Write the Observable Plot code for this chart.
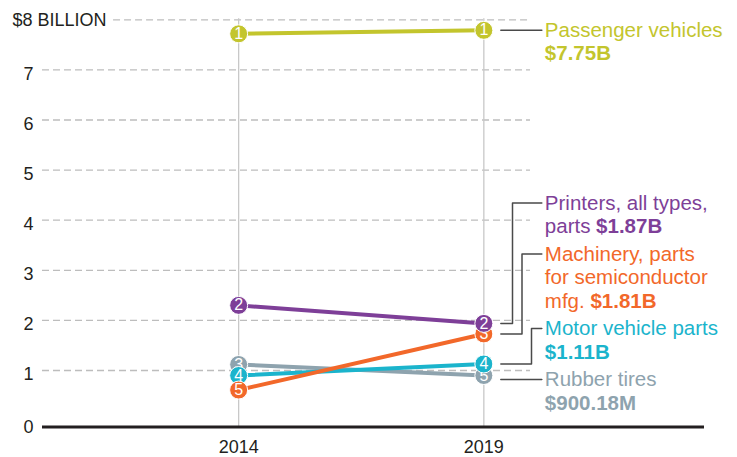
<!DOCTYPE html>
<html><head><meta charset="utf-8">
<script src="https://cdn.jsdelivr.net/npm/d3@7"></script>
<script src="https://cdn.jsdelivr.net/npm/@observablehq/plot@0.6"></script>
<style>body{margin:0;background:#fff} svg{display:block}</style>
</head><body><div id="chart"></div>
<script>
// ---------- data ----------
const years = [2014, 2019];
const series = ["Passenger vehicles", "Printers, all types, parts", "Machinery, parts for semiconductor mfg.", "Motor vehicle parts", "Rubber tires"];
const values2014 = [7.72, 2.30, 0.61, 0.90, 1.12];
const values2019 = [7.79, 1.94, 1.73, 1.13, 0.90];
const valueLabels = ["$7.75B", "$1.87B", "$1.81B", "$1.11B", "$900.18M"];
const labelLines = [
  ["Passenger vehicles", ""],
  ["Printers, all types,", "parts "],
  ["Machinery, parts", "for semiconductor", "mfg. "],
  ["Motor vehicle parts", ""],
  ["Rubber tires", ""]
];
const colors = ["#c3c52d", "#7e3f98", "#f2682a", "#1bb4cc", "#8ea3ae"];
const yTicks = [0, 1, 2, 3, 4, 5, 6, 7, 8];
const yTopLabel = "$8 BILLION";

// ---------- layout ----------
const W = 737, H = 457, mL = 42, mR = 33, mT = 19.3, mB = 36.9;
const xDomain = [2010, 2023.5], yDomain = [0, 8];
const xs = d3.scaleLinear(xDomain, [mL, W - mR]);
const ys = d3.scaleLinear(yDomain, [H - mB, mT]);
const FONT = "'Liberation Sans', Arial, sans-serif";
const labelSize = 20.5, tickSize = 18, lineH = 23.5, blockGap = 4;
const baseDrop = 6.4; // baseline sits slightly below zero
const ctx = document.createElement("canvas").getContext("2d");
const measure = (t, weight, size) => { ctx.font = `${weight} ${size}px 'Liberation Sans'`; return ctx.measureText(t).width; };

// points
const points = [];
series.forEach((s, i) => {
  points.push({series: s, idx: i, year: years[0], value: values2014[i], color: colors[i]});
  points.push({series: s, idx: i, year: years[1], value: values2019[i], color: colors[i]});
});
for (const yr of years) {
  points.filter(p => p.year === yr).sort((a, b) => b.value - a.value).forEach((p, k) => p.rank = k + 1);
}
const order = d3.sort(series.map((s, i) => i), i => values2019[i]); // bottom -> top
points.sort((a, b) => order.indexOf(a.idx) - order.indexOf(b.idx));

// labels (stacked bottom-up)
const labelXpx = xs(years[1]) + 61;
const leadStart = xs(years[1]) + 17, leadEnd = labelXpx - 3;
const textRows = [], boldRows = [], leaderRows = [];
let prev = null, pushed = 0;
for (const i of order) {
  const want = ys(values2019[i]);
  const n = labelLines[i].length;
  const a = prev === null ? want + 4 : Math.min(want, prev - n * lineH - blockGap);
  prev = a;
  labelLines[i].forEach((t, k) => {
    if (t) textRows.push({text: t, x: xs.invert(labelXpx), y: ys.invert(a + k * lineH), color: colors[i]});
  });
  const last = labelLines[i][n - 1];
  boldRows.push({text: valueLabels[i], x: xs.invert(labelXpx + measure(last, "normal", labelSize)), y: ys.invert(a + (n - 1) * lineH), color: colors[i]});
  let pts;
  if (Math.abs(a - want) < 6) {
    pts = [[leadStart, a], [leadEnd, a]];
  } else {
    const ex = 531 - 9.5 * pushed; pushed++;
    pts = [[leadStart, want], [ex, want], [ex, a], [leadEnd, a]];
  }
  pts.forEach(([px, py]) => leaderRows.push({id: i, x: xs.invert(px), y: ys.invert(py)}));
}

const topLabelXpx = mL - 30;
const gridEndX = xs.invert(530);
const grid8Start = xs.invert(topLabelXpx + measure(yTopLabel, "normal", tickSize) + 7);
const baseY = ys.invert(ys(0) + baseDrop);

const perSeries = order.flatMap(i => {
  const d = points.filter(p => p.idx === i);
  return [
    Plot.dot(d, {x: "year", y: "value", r: 9, fill: "color", stroke: "white", strokeWidth: 1}),
    Plot.text(d, {x: "year", y: "value", text: p => String(p.rank), fill: "white", fontSize: 16})
  ];
});

const plot = Plot.plot({
  width: W, height: H,
  marginLeft: mL, marginRight: mR, marginTop: mT, marginBottom: mB,
  x: {domain: xDomain, axis: null},
  y: {domain: yDomain, axis: null},
  color: {type: "identity"},
  style: {fontFamily: FONT, fontSize: tickSize + "px", color: "#231f20", background: "#fff", overflow: "visible"},
  marks: [
    Plot.ruleY(yTicks.filter(t => t > 0), {y: d => d, x1: d => d === 8 ? grid8Start : xDomain[0], x2: gridEndX, stroke: "#bdbdbd", strokeWidth: 1.3, strokeDasharray: "7,4"}),
    Plot.ruleX(years, {x: d => d, y1: baseY, y2: 8.02, stroke: "#c8c8c8", strokeWidth: 1.3}),
    Plot.ruleY([baseY], {y: d => d, x1: xDomain[0], x2: xDomain[1], stroke: "#231f20", strokeWidth: 3}),
    Plot.text(yTicks.filter(t => t > 0 && t < 8), {x: xDomain[0], y: d => d, text: d => String(d), textAnchor: "end", dx: -9, dy: 4, fontSize: tickSize, fill: "#231f20"}),
    Plot.text([0], {x: xDomain[0], y: baseY, text: d => String(d), textAnchor: "end", dx: -9, fontSize: tickSize, fill: "#231f20"}),
    Plot.text([yTopLabel], {x: xs.invert(topLabelXpx), y: 8, text: d => d, textAnchor: "start", fontSize: tickSize, fill: "#231f20"}),
    Plot.text(years, {x: d => d, y: 0, text: d => String(d), dy: 26.4, fontSize: tickSize, fill: "#231f20"}),
    Plot.line(leaderRows, {x: "x", y: "y", z: "id", stroke: "#4a4a4a", strokeWidth: 1.5}),
    Plot.line(points, {x: "year", y: "value", z: "series", stroke: "color", strokeWidth: 4}),
    ...perSeries,
    Plot.text(textRows, {x: "x", y: "y", text: "text", fill: "color", textAnchor: "start", fontSize: labelSize}),
    Plot.text(boldRows, {x: "x", y: "y", text: "text", fill: "color", textAnchor: "start", fontSize: labelSize, fontWeight: "bold"})
  ]
});
document.getElementById("chart").appendChild(plot);
</script>
</body></html>
